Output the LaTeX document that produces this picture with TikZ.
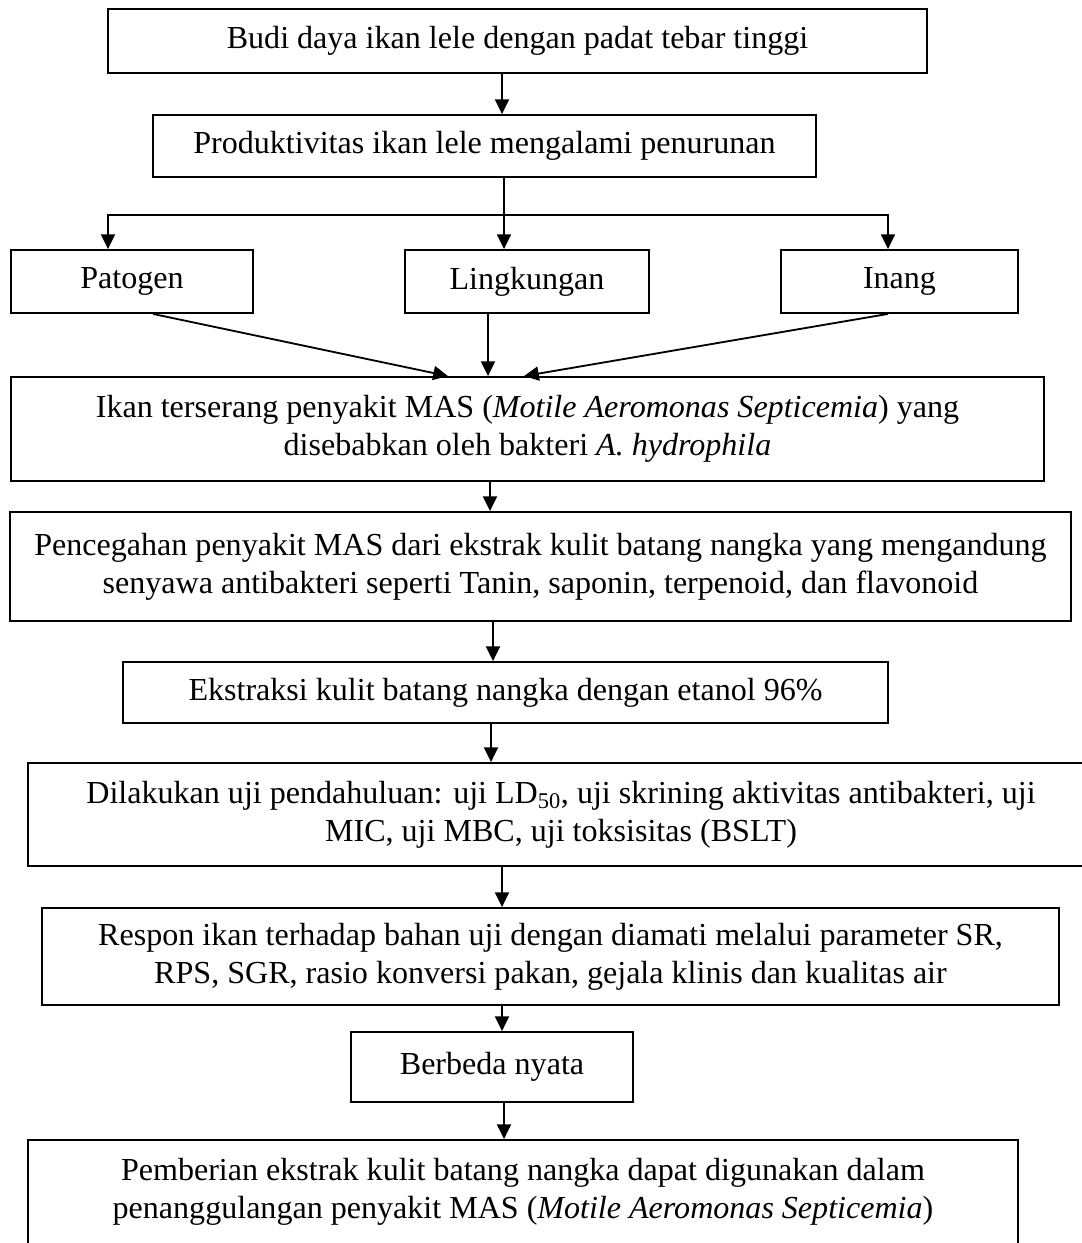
\documentclass[tikz,border=0pt]{standalone}
\usepackage{fontspec}
\setmainfont{Liberation Serif}
\usetikzlibrary{arrows.meta}

\tikzset{
  box/.style={draw, line width=1.3pt, inner sep=0pt, align=center, font=\fontsize{22.8}{27}\selectfont},
  arr/.style={line width=1.3pt, -{Triangle[length=10.5pt,width=10pt]}}
}

\begin{document}
\begin{tikzpicture}[x=0.025cm, y=-0.025cm]
    \useasboundingbox (0,0) rectangle (1081,1243);
    \node[box, minimum width=20.475cm, minimum height=1.6cm] (budi) at (517.5,41) {Budi daya ikan lele dengan padat tebar tinggi};
    \node[box, minimum width=16.575cm, minimum height=1.55cm] (produk) at (484.5,146) {Produktivitas ikan lele mengalami penurunan};
    \node[box, minimum width=6.05cm, minimum height=1.575cm] (patogen) at (132,281.5) {Patogen};
    \node[box, minimum width=6.1cm, minimum height=1.575cm] (lingkungan) at (527,281.5) {Lingkungan};
    \node[box, minimum width=5.925cm, minimum height=1.575cm] (inang) at (899.5,281.5) {Inang};
    \node[box, minimum width=25.825cm, minimum height=2.6cm] (mas) at (527.5,429) {Ikan terserang penyakit MAS (\textit{Motile Aeromonas Septicemia}) yang\\ disebabkan oleh bakteri \textit{A. hydrophila}};
    \node[box, minimum width=26.525cm, minimum height=2.725cm] (cegah) at (540.5,566.5) {Pencegahan penyakit MAS dari ekstrak kulit batang nangka yang mengandung\\ senyawa antibakteri seperti Tanin, saponin, terpenoid, dan flavonoid};
    \node[box, minimum width=19.125cm, minimum height=1.525cm] (ekstrak) at (505.5,692.5) {Ekstraksi kulit batang nangka dengan etanol 96\%};
    \node[box, minimum width=26.65cm, minimum height=2.575cm] (uji) at (561,814.5) {Dilakukan uji pendahuluan: uji LD\textsubscript{50}, uji skrining aktivitas antibakteri, uji\\ MIC, uji MBC, uji toksisitas (BSLT)};
    \node[box, minimum width=25.425cm, minimum height=2.425cm] (respon) at (550.5,956.5) {Respon ikan terhadap bahan uji dengan diamati melalui parameter SR,\\ RPS, SGR, rasio konversi pakan, gejala klinis dan kualitas air};
    \node[box, minimum width=7.05cm, minimum height=1.75cm] (beda) at (492,1067) {Berbeda nyata};
    \node[box, minimum width=24.75cm, minimum height=2.6cm] (manfaat) at (523,1192) {Pemberian ekstrak kulit batang nangka dapat digunakan dalam\\ penanggulangan penyakit MAS (\textit{Motile Aeromonas Septicemia})};

    \draw[arr] (502,0 |- budi.south) -- (502,0 |- produk.north);
    \draw[arr] (504,0 |- produk.south) -- (504,0 |- lingkungan.north);
    \draw[arr] (504,215) -- (108,215) -- (108,0 |- patogen.north);
    \draw[arr] (504,215) -- (888,215) -- (888,0 |- inang.north);
    \draw[arr] (153,0 |- patogen.south) -- (448,0 |- mas.north);
    \draw[arr] (488,0 |- lingkungan.south) -- (488,0 |- mas.north);
    \draw[arr] (888,0 |- inang.south) -- (524,0 |- mas.north);
    \draw[arr] (490,0 |- mas.south) -- (490,0 |- cegah.north);
    \draw[arr] (493,0 |- cegah.south) -- (493,0 |- ekstrak.north);
    \draw[arr] (491,0 |- ekstrak.south) -- (491,0 |- uji.north);
    \draw[arr] (502,0 |- uji.south) -- (502,0 |- respon.north);
    \draw[arr] (502,0 |- respon.south) -- (502,0 |- beda.north);
    \draw[arr] (504,0 |- beda.south) -- (504,0 |- manfaat.north);
\end{tikzpicture}
\end{document}
